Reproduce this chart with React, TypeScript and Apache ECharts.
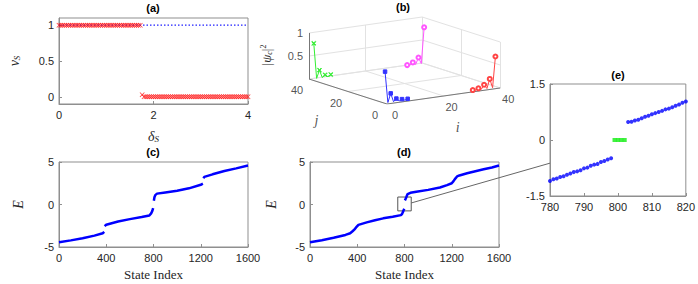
import React, { useEffect, useRef } from "react";
import * as echarts from "echarts";

// ---------------- (a) winding number vs delta_S ----------------
const deltaS = [
  0, 0.04, 0.08, 0.12, 0.16, 0.2, 0.24, 0.28, 0.32, 0.36,
  0.4, 0.44, 0.48, 0.52, 0.56, 0.6, 0.64, 0.68, 0.72, 0.76,
  0.8, 0.84, 0.88, 0.92, 0.96, 1, 1.04, 1.08, 1.12, 1.16,
  1.2, 1.24, 1.28, 1.32, 1.36, 1.4, 1.44, 1.48, 1.52, 1.56,
  1.6, 1.64, 1.68, 1.72, 1.76, 1.8, 1.84, 1.88, 1.92, 1.96,
  2, 2.04, 2.08, 2.12, 2.16, 2.2, 2.24, 2.28, 2.32, 2.36,
  2.4, 2.44, 2.48, 2.52, 2.56, 2.6, 2.64, 2.68, 2.72, 2.76,
  2.8, 2.84, 2.88, 2.92, 2.96, 3, 3.04, 3.08, 3.12, 3.16,
  3.2, 3.24, 3.28, 3.32, 3.36, 3.4, 3.44, 3.48, 3.52, 3.56,
  3.6, 3.64, 3.68, 3.72, 3.76, 3.8, 3.84, 3.88, 3.92, 3.96,
  4,
];
const nuS = [
  1, 1, 1, 1, 1, 1, 1, 1, 1, 1,
  1, 1, 1, 1, 1, 1, 1, 1, 1, 1,
  1, 1, 1, 1, 1, 1, 1, 1, 1, 1,
  1, 1, 1, 1, 1, 1, 1, 1, 1, 1,
  1, 1, 1, 1, 0.03, 0, 0, 0, 0, 0,
  0, 0, 0, 0, 0, 0, 0, 0, 0, 0,
  0, 0, 0, 0, 0, 0, 0, 0, 0, 0,
  0, 0, 0, 0, 0, 0, 0, 0, 0, 0,
  0, 0, 0, 0, 0, 0, 0, 0, 0, 0,
  0, 0, 0, 0, 0, 0, 0, 0, 0, 0,
  0,
];
const bulkDeltaS = [0, 4];
const bulkNu = [1, 1];

// ---------------- (b) corner-state densities on a 40x40 lattice ----------------
const greenSiteI = [1, 2, 3, 4, 5, 6, 7];
const greenSiteJ = 39;
const greenProb = [0.78, 0.01, 0.18, 0.01, 0.06, 0.01, 0.05];
const blueSiteI = [0, 1, 2, 3, 4, 5, 6, 7, 8];
const blueSiteJ = 1;
const blueProb = [0.69, 0.01, 0.2, 0.01, 0.07, 0.01, 0.04, 0.01, 0.03];
const redSiteI = [31, 32, 33, 34, 35, 36, 37, 38, 39];
const redSiteJ = 1;
const redProb = [0.02, 0.01, 0.04, 0.01, 0.1, 0.01, 0.21, 0.01, 0.68];
const magentaSiteI = [34, 35, 36, 37, 38, 39, 40];
const magentaSiteJ = 39;
const magentaProb = [0.02, 0.01, 0.06, 0.01, 0.15, 0.01, 0.79];
const latticeTicks = [0, 20, 40];
const probTicks = [0.5, 1];
const probGrid = [0, 0.5, 1];
const markerFloor = 0.01; // sites at the floor carry no visible marker

// ---------------- (c) spectrum ----------------
const cIndex = [0, 100, 200, 300, 370, 383, 384, 386, 400, 500, 600, 700, 765, 780, 790, 797, 800, 803, 808, 815, 830, 900, 1000, 1100, 1200, 1218, 1220, 1222, 1230, 1300, 1400, 1500, 1600];
const cEnergy = [-4.45, -4.22, -3.97, -3.66, -3.38, -3.22, null, -2.55, -2.38, -2.0, -1.72, -1.48, -1.3, -1.05, -0.75, -0.42, null, 0.45, 0.85, 1.1, 1.28, 1.42, 1.62, 1.9, 2.32, 2.45, null, 3.1, 3.25, 3.55, 3.95, 4.25, 4.58];

// ---------------- (d) spectrum (outside the zoomed window) ----------------
const dIndexLow = [0, 100, 200, 300, 340, 360, 375, 390, 410, 480, 550, 620, 700, 770];
const dEnergyLow = [-4.45, -4.2, -3.92, -3.58, -3.38, -3.15, -2.95, -2.7, -2.4, -2.1, -1.85, -1.63, -1.45, -1.25];
const dIndexHigh = [826, 850, 900, 1000, 1100, 1160, 1200, 1215, 1230, 1245, 1265, 1330, 1400, 1470, 1540, 1600];
const dEnergyHigh = [1.22, 1.38, 1.5, 1.72, 2.0, 2.28, 2.5, 2.75, 3.05, 3.3, 3.42, 3.68, 3.92, 4.14, 4.35, 4.58];
const zoomBoxIndex = [743, 857];
const zoomBoxEnergy = [-0.75, 0.88];
const linkStartEnergy = 0.18;
const linkEndEnergy = -0.62;

// ---------------- (e) zoom around the zero modes ----------------
const eLowIndex = [780, 781, 782, 783, 784, 785, 786, 787, 788, 789, 790, 791, 792, 793, 794, 795, 796, 797, 798];
const eLowEnergy = [-1.1, -1.05, -1.03, -0.99, -0.97, -0.93, -0.9, -0.86, -0.84, -0.81, -0.76, -0.74, -0.69, -0.66, -0.64, -0.59, -0.56, -0.52, -0.49];
const eZeroIndex = [799, 800, 801, 802];
const eZeroEnergy = [0, 0, 0, 0];
const eHighIndex = [803, 804, 805, 806, 807, 808, 809, 810, 811, 812, 813, 814, 815, 816, 817, 818, 819, 820];
const eHighEnergy = [0.48, 0.49, 0.52, 0.54, 0.58, 0.62, 0.65, 0.69, 0.72, 0.75, 0.78, 0.82, 0.84, 0.88, 0.92, 0.95, 1.0, 1.03];

// ---------------- styling ----------------
const SANS = '"Liberation Sans", Arial, Helvetica, sans-serif';
const SERIF = '"Liberation Serif", "Times New Roman", serif';
const AXIS_COLOR = "#8f8f8f";
const TICK_LABEL = { color: "#262626", fontSize: 11, fontFamily: SANS };
const X_PATH = "path://M0,1L1,0L5,4L9,0L10,1L6,5L10,9L9,10L5,6L1,10L0,9L4,5Z";

// 3D view projection (azimuth/elevation of panel b)
const VIEW = { ix: 2.83, iy: 0.4, jx: -1.95, jy: 0.625, zy: 46 };
const proj = (i: number, j: number, z: number) => [VIEW.ix * i + VIEW.jx * j, VIEW.iy * i + VIEW.jy * j + VIEW.zy * z];

const pairs = (xs: number[], ys: (number | null)[]) => xs.map((x, k) => [x, ys[k]]);
const plain = (v: number) => String(v);

function valAxis(gridIndex: number, min: number, max: number, interval: number | undefined, extra: any = {}) {
  return {
    type: "value",
    gridIndex,
    min,
    max,
    interval,
    axisLine: { show: true, onZero: false, lineStyle: { color: AXIS_COLOR } },
    axisTick: { show: true, inside: true, length: 3, lineStyle: { color: AXIS_COLOR } },
    splitLine: { show: false },
    axisLabel: { ...TICK_LABEL, margin: 5, formatter: plain },
    ...extra,
  };
}

const italicRich = {
  v: { fontFamily: SERIF, fontStyle: "italic", fontSize: 14, color: "#262626" },
  s: { fontFamily: SERIF, fontStyle: "italic", fontSize: 9, color: "#262626", verticalAlign: "bottom", padding: [5, 0, 0, 0] },
};

function buildOption() {
  // panel b skeleton
  const gridSegs: number[][][] = [];
  latticeTicks.forEach((t) => {
    gridSegs.push([proj(t, 0, 0), proj(t, 40, 0)]);
    gridSegs.push([proj(0, t, 0), proj(40, t, 0)]);
    gridSegs.push([proj(t, 40, 0), proj(t, 40, 1)]);
    gridSegs.push([proj(40, t, 0), proj(40, t, 1)]);
  });
  probGrid.forEach((z) => {
    gridSegs.push([proj(0, 40, z), proj(40, 40, z)]);
    gridSegs.push([proj(40, 0, z), proj(40, 40, z)]);
  });
  const axisSegs = [
    [proj(0, 0, 0), proj(0, 40, 0)],
    [proj(0, 0, 0), proj(40, 0, 0)],
    [proj(0, 40, 0), proj(0, 40, 1)],
  ];
  const bLabels: any[] = [];
  probTicks.forEach((z) =>
    bLabels.push({ value: proj(0, 40, z), label: { formatter: String(z), offset: [-6, 0], align: "right" } })
  );
  latticeTicks.forEach((t) =>
    bLabels.push({ value: proj(0, t, 0), label: { formatter: String(t), offset: [-12, 11], align: "center" } })
  );
  latticeTicks.forEach((t) =>
    bLabels.push({ value: proj(t, 0, 0), label: { formatter: String(t), offset: [8, 11], align: "center" } })
  );
  bLabels.push({
    value: proj(25, 0, 0),
    label: { formatter: "i", offset: [0, 33], align: "center", fontFamily: SERIF, fontStyle: "italic", fontSize: 14 },
  });
  bLabels.push({
    value: proj(0, 30, 0),
    label: { formatter: "j", offset: [-12, 35], align: "center", fontFamily: SERIF, fontStyle: "italic", fontSize: 14 },
  });

  const corner = (name: string, is: number[], j: number, zs: number[], color: string, symbol: string, size: number) => ({
    type: "line",
    name,
    xAxisIndex: 1,
    yAxisIndex: 1,
    data: is.map((i, k) => ({
      value: proj(i, j, zs[k]),
      symbolSize: zs[k] <= markerFloor ? 0 : size,
    })),
    symbol,
    symbolSize: size,
    showSymbol: true,
    lineStyle: { color, width: 1 },
    itemStyle: { color, borderColor: color, borderWidth: 1 },
    clip: false,
    z: 5,
  });

  const gap = (x: number) => [x, null];
  const dData = [
    ...pairs(dIndexLow, dEnergyLow),
    ...pairs(eLowIndex, eLowEnergy),
    gap(798.5),
    ...pairs(eZeroIndex, eZeroEnergy),
    gap(802.5),
    ...pairs(eHighIndex, eHighEnergy),
    ...pairs(dIndexHigh, dEnergyHigh),
  ];

  const gridBox = { show: true, borderColor: AXIS_COLOR, borderWidth: 1, backgroundColor: "transparent" };
  const titleText = (id: string, text: string, x: number, y: number) => ({
    type: "text",
    id,
    x,
    y,
    style: {
      text,
      font: `bold 11px ${SANS}`,
      fill: "#000",
      textAlign: "center",
      textVerticalAlign: "middle",
      align: "center",
      verticalAlign: "middle",
    },
  });

  return {
    animation: false,
    backgroundColor: "#ffffff",
    grid: [
      { left: 59, top: 18, width: 189, height: 86, ...gridBox },
      { left: 307, top: 4, width: 195, height: 100, show: false },
      { left: 59, top: 162, width: 189, height: 85, ...gridBox },
      { left: 310, top: 162, width: 189, height: 85, ...gridBox },
      { left: 550, top: 84, width: 138, height: 112, ...gridBox },
    ],
    xAxis: [
      valAxis(0, 0, 4, 2, {
        name: "{v|δ}{s|S}",
        nameLocation: "middle",
        nameGap: 25,
        nameTextStyle: { rich: italicRich },
      }),
      { type: "value", gridIndex: 1, min: -80, max: 115, show: false },
      valAxis(2, 0, 1600, 400, {
        name: "State Index",
        nameLocation: "middle",
        nameGap: 21,
        nameTextStyle: { fontFamily: SERIF, fontSize: 13, color: "#262626" },
      }),
      valAxis(3, 0, 1600, 400, {
        name: "State Index",
        nameLocation: "middle",
        nameGap: 21,
        nameTextStyle: { fontFamily: SERIF, fontSize: 13, color: "#262626" },
      }),
      valAxis(4, 780, 820, 10),
    ],
    yAxis: [
      valAxis(0, -0.1, 1.1, undefined, {
        axisLabel: { ...TICK_LABEL, margin: 5, customValues: [0, 0.5, 1], formatter: plain },
        axisTick: { show: true, inside: true, length: 3, lineStyle: { color: AXIS_COLOR }, customValues: [0, 0.5, 1] },
        name: "{v|ν}{s|S}",
        nameLocation: "middle",
        nameRotate: 90,
        nameGap: 38,
        nameTextStyle: { rich: italicRich },
      }),
      { type: "value", gridIndex: 1, min: 0, max: 100, show: false },
      valAxis(2, -5, 5, 5, {
        name: "E",
        nameLocation: "middle",
        nameRotate: 90,
        nameGap: 34,
        nameTextStyle: { fontFamily: SERIF, fontStyle: "italic", fontSize: 14, color: "#262626" },
      }),
      valAxis(3, -5, 5, 5, {
        name: "E",
        nameLocation: "middle",
        nameRotate: 90,
        nameGap: 32,
        nameTextStyle: { fontFamily: SERIF, fontStyle: "italic", fontSize: 14, color: "#262626" },
      }),
      valAxis(4, -1.5, 1.5, 1.5),
    ],
    graphic: [
      titleText("ta", "(a)", 153, 8),
      titleText("tb", "(b)", 403, 7),
      titleText("tc", "(c)", 153, 152),
      titleText("td", "(d)", 404, 152),
      titleText("te", "(e)", 618, 75),
      {
        type: "text",
        id: "psi",
        x: 266,
        y: 55,
        rotation: Math.PI / 2,
        style: {
          text: "{n||}{v|ψ}{s|c}{n||}{p|2}",
          textAlign: "center",
          textVerticalAlign: "middle",
          align: "center",
          verticalAlign: "middle",
          fill: "#262626",
          rich: {
            n: { fontFamily: SERIF, fontSize: 13, fill: "#262626", color: "#262626" },
            v: { fontFamily: SERIF, fontStyle: "italic", fontSize: 13, fill: "#262626", color: "#262626" },
            s: { fontFamily: SERIF, fontStyle: "italic", fontSize: 8, fill: "#262626", color: "#262626", verticalAlign: "bottom", padding: [5, 0, 0, 0] },
            p: { fontFamily: SERIF, fontSize: 8, fill: "#262626", color: "#262626", verticalAlign: "top", padding: [0, 0, 6, 0] },
          },
        },
      },
    ],
    series: [
      {
        type: "line",
        xAxisIndex: 0,
        yAxisIndex: 0,
        data: pairs(bulkDeltaS, bulkNu),
        showSymbol: false,
        lineStyle: { color: "#2020ff", width: 1.2, type: [1.5, 2] },
        z: 2,
      },
      {
        type: "scatter",
        xAxisIndex: 0,
        yAxisIndex: 0,
        data: pairs(deltaS, nuS),
        symbol: X_PATH,
        symbolSize: 5,
        itemStyle: { color: "#ff0000" },
        z: 3,
      },
      {
        type: "lines",
        coordinateSystem: "cartesian2d",
        xAxisIndex: 1,
        yAxisIndex: 1,
        polyline: false,
        silent: true,
        data: gridSegs.map((c) => ({ coords: c })),
        lineStyle: { color: "#e2e2e2", width: 1, opacity: 1 },
        z: 1,
      },
      {
        type: "lines",
        coordinateSystem: "cartesian2d",
        xAxisIndex: 1,
        yAxisIndex: 1,
        polyline: false,
        silent: true,
        data: axisSegs.map((c) => ({ coords: c })),
        lineStyle: { color: "#777777", width: 1, opacity: 1 },
        z: 2,
      },
      corner("green", greenSiteI, greenSiteJ, greenProb, "#33ee33", X_PATH, 4),
      corner("blue", blueSiteI, blueSiteJ, blueProb, "#3333ff", "rect", 3.5),
      corner("red", redSiteI, redSiteJ, redProb, "#ff4444", "emptyCircle", 4),
      corner("magenta", magentaSiteI, magentaSiteJ, magentaProb, "#ff55ff", "emptyCircle", 4),
      {
        type: "scatter",
        xAxisIndex: 1,
        yAxisIndex: 1,
        symbolSize: 0,
        silent: true,
        data: bLabels,
        label: { show: true, position: "inside", ...TICK_LABEL, verticalAlign: "middle" },
        z: 6,
      },
      {
        type: "line",
        xAxisIndex: 2,
        yAxisIndex: 2,
        data: pairs(cIndex, cEnergy),
        showSymbol: false,
        connectNulls: false,
        lineStyle: { color: "#0000ff", width: 2.5 },
      },
      {
        type: "line",
        xAxisIndex: 3,
        yAxisIndex: 3,
        data: dData,
        showSymbol: false,
        connectNulls: false,
        lineStyle: { color: "#0000ff", width: 2.5 },
        markArea: {
          silent: true,
          itemStyle: { color: "rgba(0,0,0,0)", borderColor: "#555555", borderWidth: 1 },
          data: [[{ coord: [zoomBoxIndex[0], zoomBoxEnergy[0]] }, { coord: [zoomBoxIndex[1], zoomBoxEnergy[1]] }]],
        },
      },
      {
        type: "scatter",
        xAxisIndex: 4,
        yAxisIndex: 4,
        data: pairs(eLowIndex, eLowEnergy),
        symbol: "circle",
        symbolSize: 4,
        itemStyle: { color: "#0000ff" },
      },
      {
        type: "scatter",
        xAxisIndex: 4,
        yAxisIndex: 4,
        data: pairs(eHighIndex, eHighEnergy),
        symbol: "circle",
        symbolSize: 4,
        itemStyle: { color: "#0000ff" },
      },
      {
        type: "scatter",
        xAxisIndex: 4,
        yAxisIndex: 4,
        data: pairs(eZeroIndex, eZeroEnergy),
        symbol: "rect",
        symbolSize: 4,
        itemStyle: { color: "#11ee11" },
      },
    ],
  };
}

export default function App() {
  const ref = useRef<HTMLDivElement>(null);
  useEffect(() => {
    document.body.style.margin = "0";
    const chart = echarts.init(ref.current!, null, { renderer: "svg" });
    chart.setOption(buildOption() as any);
    const p1 = chart.convertToPixel({ gridIndex: 3 } as any, [zoomBoxIndex[1], linkStartEnergy]) as number[];
    const p2 = chart.convertToPixel({ gridIndex: 4 } as any, [eLowIndex[0], linkEndEnergy]) as number[];
    if (p1 && p2) {
      chart.setOption({
        graphic: [
          {
            type: "line",
            id: "link",
            shape: { x1: p1[0], y1: p1[1], x2: p2[0], y2: p2[1] },
            style: { stroke: "#666666", lineWidth: 1 },
            z: 100,
          },
        ],
      } as any);
    }
    return () => chart.dispose();
  }, []);
  return <div ref={ref} style={{ width: 698, height: 284 }} />;
}
